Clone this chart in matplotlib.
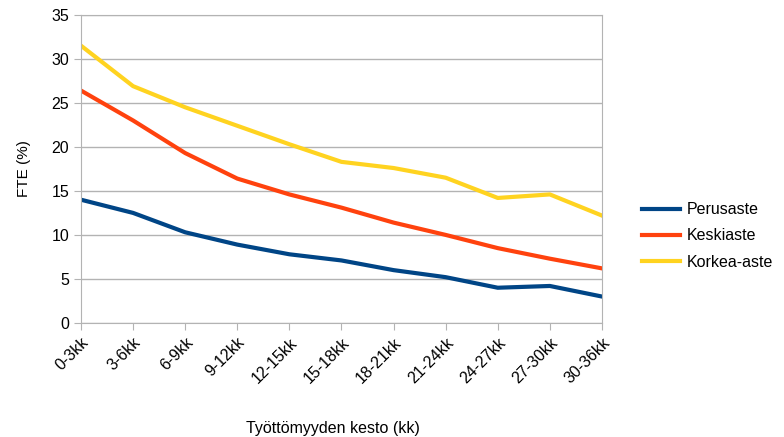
import matplotlib.pyplot as plt

plt.rcParams['font.family'] = ['Liberation Sans', 'DejaVu Sans']

categories = ["0-3kk", "3-6kk", "6-9kk", "9-12kk", "12-15kk", "15-18kk",
              "18-21kk", "21-24kk", "24-27kk", "27-30kk", "30-36kk"]
perusaste = [14.0, 12.5, 10.3, 8.9, 7.8, 7.1, 6.0, 5.2, 4.0, 4.2, 3.0]
keskiaste = [26.4, 23.0, 19.3, 16.4, 14.6, 13.1, 11.4, 10.0, 8.5, 7.3, 6.2]
korkea_aste = [31.5, 26.9, 24.5, 22.4, 20.3, 18.3, 17.6, 16.5, 14.2, 14.6, 12.2]

fig = plt.figure(figsize=(7.84, 4.37), dpi=100)
ax = fig.add_axes([0.1033, 0.261, 0.6645, 0.705])

x = list(range(len(categories)))
ax.plot(x, perusaste, color="#004586", linewidth=3, label="Perusaste")
ax.plot(x, keskiaste, color="#ff420e", linewidth=3, label="Keskiaste")
ax.plot(x, korkea_aste, color="#ffd320", linewidth=3, label="Korkea-aste")

ax.set_xlim(0, len(categories) - 1)
ax.set_ylim(0, 35)
ax.set_yticks(range(0, 36, 5))
ax.set_xticks(x)
ax.set_xticklabels(categories, rotation=45, ha="right", rotation_mode="anchor")
ax.grid(axis="y", color="#b3b3b3", linewidth=1)
ax.set_axisbelow(True)
for s in ax.spines.values():
    s.set_color("#b3b3b3")
ax.tick_params(axis="both", colors="#b3b3b3", labelcolor="black", labelsize=11.5, length=5)

ax.set_ylabel("FTE (%)", fontsize=11, labelpad=15)
fig.text(333 / 784, 1 - 428 / 437, "Työttömyyden kesto (kk)", fontsize=11.5,
         ha="center", va="center")

fig.legend(loc="center left", bbox_to_anchor=(0.80, 0.46), frameon=False,
           fontsize=11.5, handlelength=2.4, handletextpad=0.4, labelspacing=0.7)

fig.savefig("out.png", dpi=100)
